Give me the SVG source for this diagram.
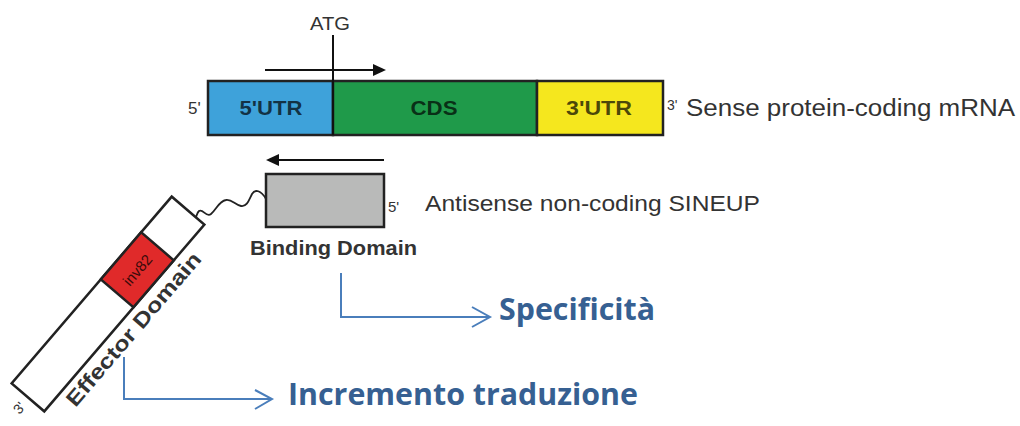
<svg xmlns="http://www.w3.org/2000/svg" width="1020" height="426" viewBox="0 0 1020 426">
<defs>
<style>
.lbl{font-family:"Liberation Sans",Arial,sans-serif;fill:#333}
.seg{font-family:"Liberation Sans",Arial,sans-serif;font-weight:bold;fill:#000;fill-opacity:0.7;text-anchor:middle}
.box{stroke:#222;stroke-width:2.5}
.blue{font-family:"Open Sans","Noto Sans",sans-serif;font-weight:bold;fill:#366092}
.conn{fill:none;stroke:#4a7ebb;stroke-width:2}
.blk{fill:none;stroke:#111;stroke-width:2}
</style>
</defs>
<rect width="1020" height="426" fill="#fff"/>

<g id="mrna">
<rect class="box" x="208" y="81" width="125" height="54" fill="#3ea2da"/>
<rect class="box" x="333" y="81" width="204" height="54" fill="#1f9a4a"/>
<rect class="box" x="537" y="81" width="126" height="54" fill="#f5e71e"/>
<text class="seg" x="271" y="115" font-size="21" textLength="63" lengthAdjust="spacingAndGlyphs">5'UTR</text>
<text class="seg" x="434" y="115" font-size="21" textLength="47" lengthAdjust="spacingAndGlyphs">CDS</text>
<text class="seg" x="599" y="115" font-size="21" textLength="66" lengthAdjust="spacingAndGlyphs">3'UTR</text>
<text class="lbl" x="188" y="114" font-size="17">5'</text>
<text class="lbl" x="667" y="110" font-size="14">3'</text>
<text class="lbl" x="686" y="116" font-size="23" textLength="329" lengthAdjust="spacingAndGlyphs">Sense protein-coding mRNA</text>
</g>

<g id="atg">
<text class="lbl" x="310" y="30" font-size="19" textLength="40" lengthAdjust="spacingAndGlyphs">ATG</text>
<line class="blk" x1="333" y1="35" x2="333" y2="135"/>
<line class="blk" x1="265" y1="70" x2="375" y2="70"/>
<polygon points="386,70 373,64 373,76" fill="#111"/>
</g>

<g id="binding">
<line class="blk" x1="277" y1="160" x2="384" y2="160"/>
<polygon points="266,160 279,154 279,166" fill="#111"/>
<rect class="box" x="266" y="174" width="118" height="53" fill="#b9bab9"/>
<text class="lbl" x="388" y="212" font-size="15">5'</text>
<text class="lbl" x="425" y="211" font-size="22" textLength="335" lengthAdjust="spacingAndGlyphs">Antisense non-coding SINEUP</text>
<text class="lbl" x="250" y="255" font-size="21" font-weight="bold" textLength="167" lengthAdjust="spacingAndGlyphs">Binding Domain</text>
</g>

<path id="linker" d="M266,199 C261,190 255,189 252,194 C249,200 247,207 241,206 C235,205 232,199 226,200 C219,201 216,210 211,214 C206,218 203,208 199,211 C197,213 197,215 196,217" fill="none" stroke="#222" stroke-width="1.8"/>

<g id="effector" transform="translate(108,304) rotate(-49.4)">
<rect class="box" x="-123" y="-21.5" width="246" height="43" fill="#fff" stroke-width="2"/>
<rect class="box" x="14" y="-21.5" width="62" height="43" fill="#e02a2a" stroke-width="2"/>
<text x="45" y="5.5" font-size="15" text-anchor="middle" font-family="Liberation Sans,Arial,sans-serif" fill="#3a0a0a">inv82</text>
<text class="lbl" x="-100" y="43" font-size="21" font-weight="bold" fill="#444" textLength="195" lengthAdjust="spacingAndGlyphs">Effector Domain</text>
<text class="lbl" x="-142" y="5" font-size="14">3'</text>
</g>

<g id="connectors">
<polyline class="conn" points="341,273 341,317 489,317"/>
<polyline class="conn" points="472,307 490,317 472,327"/>
<polyline class="conn" points="124,357 124,399 271,399"/>
<polyline class="conn" points="255,390 272,399 255,409"/>
</g>

<g id="specificita">
<text class="blue" x="499" y="320" font-size="31" textLength="156" lengthAdjust="spacingAndGlyphs">Specificità</text>
</g>
<g id="incremento">
<text class="blue" x="288" y="405" font-size="31" textLength="350" lengthAdjust="spacingAndGlyphs">Incremento traduzione</text>
</g>
</svg>
